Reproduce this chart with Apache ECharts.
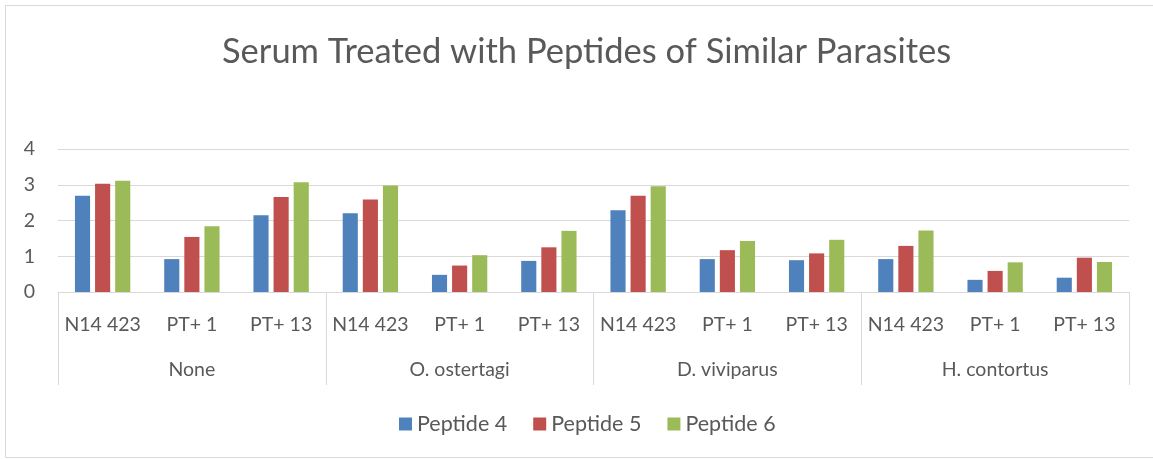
<!DOCTYPE html>
<html>
<head>
<meta charset="utf-8">
<script src="https://cdn.jsdelivr.net/npm/echarts@6/dist/echarts.min.js"></script>
<style>
html,body{margin:0;padding:0;background:#fff;}
#chart{width:1153px;height:459px;}
</style>
</head>
<body>
<div id="chart"></div>
<script>
const titleText = "Serum Treated with Peptides of Similar Parasites";
const groups = ["None", "O. ostertagi", "D. viviparus", "H. contortus"];
const subCategories = ["N14 423", "PT+ 1", "PT+ 13"];
const seriesNames = ["Peptide 4", "Peptide 5", "Peptide 6"];
const peptide4 = [2.69, 0.92, 2.15, 2.20, 0.48, 0.87, 2.29, 0.92, 0.89, 0.92, 0.34, 0.40];
const peptide5 = [3.03, 1.54, 2.66, 2.59, 0.74, 1.25, 2.69, 1.17, 1.08, 1.29, 0.59, 0.96];
const peptide6 = [3.11, 1.84, 3.07, 2.98, 1.03, 1.71, 2.96, 1.43, 1.46, 1.72, 0.83, 0.84];
const yTicks = [0, 1, 2, 3, 4];

const categories = [];
groups.forEach(g => subCategories.forEach(s => categories.push(s)));
const colors = ["#4F81BD", "#C0504D", "#9BBB59"];
const values = [peptide4, peptide5, peptide6];
const FONT = "Lato, 'Noto Sans', sans-serif";
const TXT = "#595959";
const GRIDC = "#d9d9d9";

const chart = echarts.init(document.getElementById('chart'), null, {renderer: 'canvas'});
chart.setOption({
  animation: false,
  backgroundColor: '#fff',
  textStyle: {fontFamily: FONT},
  title: {
    text: titleText,
    left: 217,
    top: 29,
    textStyle: {fontSize: 34.5, fontWeight: 'normal', color: TXT, fontFamily: FONT}
  },
  graphic: [{
    type: 'rect',
    shape: {x: 5.5, y: 5.5, width: 1160, height: 452},
    style: {fill: 'none', stroke: GRIDC, lineWidth: 1},
    silent: true
  }],
  legend: {
    data: seriesNames,
    top: 408,
    left: 394,
    icon: 'rect',
    itemWidth: 13,
    itemHeight: 13,
    itemGap: 26,
    textStyle: {fontSize: 21.5, color: TXT, fontFamily: FONT}
  },
  grid: {left: 58, right: 24, top: 149, bottom: 167, containLabel: false},
  xAxis: [{
    type: 'category',
    data: categories,
    axisLine: {lineStyle: {color: GRIDC, width: 1}},
    axisTick: {show: false},
    axisLabel: {interval: 0, margin: 23, fontSize: 19.5, color: TXT, fontFamily: FONT}
  }, {
    type: 'category',
    position: 'bottom',
    data: groups,
    axisLine: {show: false},
    axisTick: {show: true, length: 93, lineStyle: {color: GRIDC, width: 1}},
    axisLabel: {interval: 0, margin: 68, fontSize: 19.5, color: TXT, fontFamily: FONT},
    splitLine: {show: false}
  }],
  yAxis: {
    type: 'value',
    min: 0, max: 4, interval: 1,
    axisLine: {show: false},
    axisTick: {show: false},
    axisLabel: {margin: 23, fontSize: 19.5, color: TXT, fontFamily: FONT,
      formatter: v => yTicks.includes(v) ? String(v) : ''},
    splitLine: {lineStyle: {color: GRIDC, width: 1}}
  },
  series: seriesNames.map((n, i) => ({
    name: n,
    type: 'bar',
    xAxisIndex: 0,
    data: values[i],
    barGap: '33%',
    barCategoryGap: '38%',
    itemStyle: {color: colors[i]}
  }))
});
</script>
</body>
</html>
